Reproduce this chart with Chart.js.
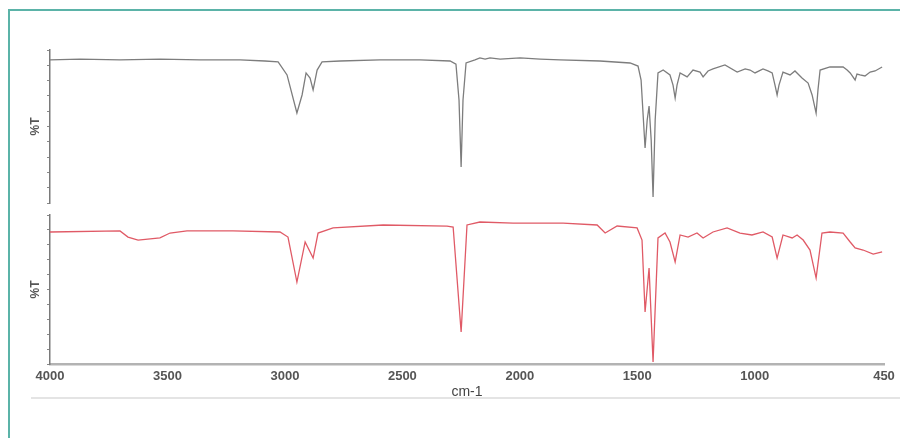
<!DOCTYPE html>
<html>
<head>
<meta charset="utf-8">
<script src="https://cdn.jsdelivr.net/npm/chart.js@4.4.0/dist/chart.umd.min.js"></script>
<style>
    html, body { margin: 0; padding: 0; background: #fff; overflow: hidden; }
    #wrap { position: relative; width: 900px; height: 438px; }
    #frame { position: absolute; left: 8px; top: 9px; width: 1000px; height: 1000px;
             border-left: 2px solid #5bb3a8; border-top: 2px solid #5bb3a8; }
    #sep { position: absolute; left: 31px; top: 397px; width: 869px; height: 2px; background: #e4e4e4; }
    canvas { position: absolute; left: 0; top: 0; }
</style>
</head>
<body>
<div id="wrap">
    <div id="frame"></div>
    <div id="sep"></div>
    <canvas id="topChart" width="900" height="438"></canvas>
    <canvas id="bottomChart" width="900" height="438"></canvas>
</div>
<script>
// Eixo x (número de onda, cm-1)
const xTicks = [4000, 3500, 3000, 2500, 2000, 1500, 1000, 450];

// Espectro de cima (cinza)
const topWavenumbers = [4000, 3872, 3702, 3532, 3361, 3191, 3085, 3029, 2991, 2949, 2927, 2910, 2893, 2880, 2863, 2842,
    2765, 2595, 2425, 2297, 2272, 2259, 2250, 2242, 2229, 2191, 2170, 2148, 2127, 2084, 1999, 1914, 1829, 1659,
    1531, 1497, 1484, 1467, 1458, 1450, 1441, 1433, 1424, 1412, 1390, 1361, 1348, 1339, 1331, 1318, 1288, 1263,
    1233, 1220, 1199, 1178, 1127, 1075, 1041, 1020, 999, 965, 944, 926, 914, 905, 897, 880, 850, 829, 799, 773,
    756, 739, 731, 722, 680, 624, 607, 594, 573, 565, 552, 531, 509, 488, 458];
const topTransmittance = [93.5, 94.1, 93.5, 94.1, 93.5, 93.5, 92.8, 92.2, 83.7, 58.8, 70.6, 85.0, 81.7, 73.9, 86.9, 92.2,
    92.8, 93.5, 93.5, 92.8, 90.8, 67.3, 23.5, 67.3, 91.5, 93.5, 94.8, 94.1, 94.8, 94.1, 94.8, 94.1, 93.5, 92.8,
    91.5, 89.5, 80.4, 35.9, 54.2, 63.4, 41.2, 3.9, 54.2, 85.0, 86.9, 83.7, 77.1, 68.6, 77.1, 85.0, 82.4, 86.9,
    85.6, 82.4, 86.3, 87.6, 90.2, 85.6, 87.6, 86.9, 85.0, 87.6, 86.3, 85.0, 77.1, 70.6, 77.1, 85.6, 83.7, 86.3, 81.7, 78.4,
    70.6, 58.8, 73.9, 86.9, 88.9, 88.9, 86.9, 85.0, 80.4, 84.3, 83.7, 83.0, 85.6, 86.3, 88.9];

// Espectro de baixo (vermelho)
const bottomWavenumbers = [4000, 3702, 3668, 3625, 3532, 3489, 3417, 3221, 3021, 2987, 2949, 2914, 2880, 2859, 2795,
    2582, 2310, 2284, 2250, 2225, 2170, 2029, 1816, 1671, 1637, 1586, 1501, 1480, 1467, 1450, 1433, 1412, 1382,
    1361, 1339, 1318, 1284, 1246, 1220, 1178, 1118, 1063, 1012, 965, 926, 905, 880, 841, 820, 794, 765, 739, 714,
    680, 624, 594, 573, 539, 496, 458];
const bottomTransmittance = [88.6, 89.3, 85.2, 83.2, 84.6, 87.9, 89.3, 89.3, 88.6, 85.2, 55.0, 81.9, 71.1, 87.9, 91.3,
    93.3, 92.6, 91.9, 21.5, 93.3, 95.3, 94.6, 94.6, 93.3, 87.9, 92.6, 91.3, 83.2, 34.9, 64.4, 1.3, 84.6, 87.9,
    81.9, 68.5, 86.6, 85.2, 87.9, 84.6, 88.6, 91.3, 87.9, 86.6, 88.6, 85.2, 71.1, 86.6, 84.6, 86.6, 83.2, 76.5, 57.7, 87.9,
    88.6, 87.9, 81.9, 77.9, 76.5, 73.8, 75.2];

function toPoints(xs, ys) {
    return xs.map((x, i) => ({ x: x, y: ys[i] }));
}

// Eixo y comum aos dois painéis
function yAxis() {
    return {
        min: 0,
        max: 100,
        ticks: { display: false, stepSize: 10 },
        grid: { drawOnChartArea: false, drawTicks: true, tickLength: 3, tickColor: '#888', lineWidth: 1 },
        border: { display: true, color: '#7a7a7a', width: 1.5 },
        title: {
            display: true,
            text: '%T',
            color: '#555',
            font: { family: 'Liberation Sans, Arial, sans-serif', size: 12, weight: 'bold' },
            padding: { top: 4, bottom: 4 }
        },
        afterFit: function(scale) { scale.width = 26; }
    };
}

function createSpectrum(id, xs, ys, color, showX, padTop, padBottom) {
    const ctx = document.getElementById(id);
    return new Chart(ctx, {
        type: 'line',
        data: {
            datasets: [{
                data: toPoints(xs, ys),
                borderColor: color,
                borderWidth: 1.3,
                pointRadius: 0,
                tension: 0,
                fill: false
            }]
        },
        options: {
            responsive: false,
            animation: false,
            layout: { padding: { left: 24, right: 16, top: padTop, bottom: padBottom } },
            plugins: { legend: { display: false }, tooltip: { enabled: false } },
            scales: {
                x: {
                    type: 'linear',
                    display: showX,
                    reverse: true,
                    min: 450,
                    max: 4000,
                    afterBuildTicks: function(scale) {
                        scale.ticks = xTicks.map(v => ({ value: v }));
                    },
                    ticks: {
                        color: '#555',
                        padding: 5,
                        maxRotation: 0,
                        autoSkip: false,
                        font: { family: 'Liberation Sans, Arial, sans-serif', size: 13, weight: 'bold' },
                        callback: function(value) { return String(value); }
                    },
                    grid: { drawOnChartArea: false, drawTicks: false },
                    border: { display: true, color: '#b3b3b3', width: 2.5 },
                    title: {
                        display: true,
                        text: 'cm-1',
                        color: '#444',
                        font: { family: 'Liberation Sans, Arial, sans-serif', size: 14 },
                        padding: { top: 4, bottom: 4 }
                    },
                    afterFit: function(scale) { scale.height = showX ? 41 : 0; }
                },
                y: yAxis()
            }
        }
    });
}

const topChart = createSpectrum('topChart', topWavenumbers, topTransmittance, '#7d7d7d', false, 50, 235);
const bottomChart = createSpectrum('bottomChart', bottomWavenumbers, bottomTransmittance, '#e05a66', true, 215, 33);
</script>
</body>
</html>
